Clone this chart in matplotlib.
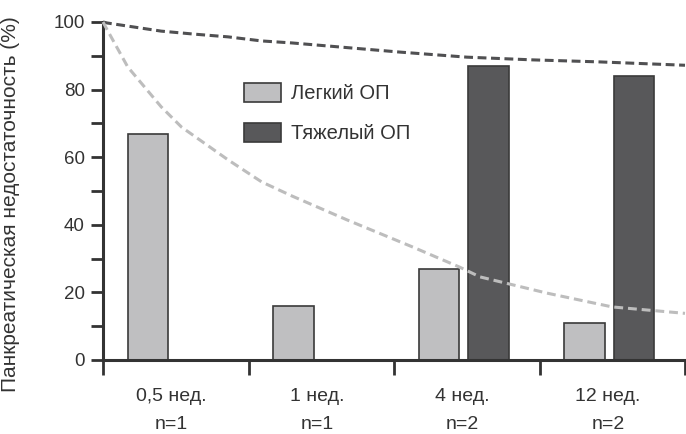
import matplotlib
matplotlib.use("Agg")
import matplotlib.pyplot as plt
import numpy as np
from matplotlib.patches import Patch

plt.rcParams['font.family'] = ['Liberation Sans', 'DejaVu Sans']

# ---- data ----
categories = ["0,5 нед.\nn=1", "1 нед.\nn=1", "4 нед.\nn=2", "12 нед.\nn=2"]
mild = [67, 16, 27, 11]
severe = [np.nan, np.nan, 87, 84]
series_labels = ["Легкий ОП", "Тяжелый ОП"]

# dashed trend curves (x in category units)
severe_curve_x = [-0.50, -0.47, -0.10, 0.13, 0.36, 0.59, 0.80, 1.54, 2.00, 2.45, 2.91, 3.50]
severe_curve_y = [100, 99.7, 97.3, 96.4, 95.6, 94.4, 93.8, 91.1, 89.6, 88.8, 88.2, 87.2]
mild_curve_x = [-0.50, -0.47, -0.33, -0.10, 0.04, 0.36, 0.59, 0.80, 1.18, 1.63, 1.95, 2.09, 2.55, 3.00, 3.50]
mild_curve_y = [100, 97.6, 86.7, 74.9, 68.9, 59.2, 52.7, 48.5, 41.4, 33.4, 27.5, 24.6, 19.8, 15.7, 13.8]

light = "#bfbfc1"
dark = "#58585a"
edge = "#3a3a3a"
txt = "#333333"

fig = plt.figure(figsize=(6.86, 4.34), dpi=100)
ax = fig.add_axes([103/686, 1-360/434, 582/686, 338/434])

x = np.arange(len(categories))
w = 0.28
ax.bar(x - 0.19, mild, w, color=light, edgecolor=edge, linewidth=1.2, zorder=2)
ax.bar(x + 0.15, severe, w, color=dark, edgecolor=edge, linewidth=1.2, zorder=2)

ax.plot(severe_curve_x, severe_curve_y, color="#505052", lw=2.2, dashes=(2.9, 1.5), zorder=3, clip_on=False)
ax.plot(mild_curve_x, mild_curve_y, color="#bdbdbd", lw=2.2, dashes=(2.9, 1.6), zorder=3, clip_on=False)

ax.set_xlim(-0.5, 3.5)
ax.set_ylim(0, 100)

for s in ["top", "right"]:
    ax.spines[s].set_visible(False)
for s in ["left", "bottom"]:
    ax.spines[s].set_linewidth(2.2)
    ax.spines[s].set_color(txt)

ax.set_yticks([0, 20, 40, 60, 80, 100])
ax.set_yticks([10, 30, 50, 70, 90], minor=True)
ax.tick_params(axis='y', which='both', length=9, width=2, color=txt,
               labelsize=13.5, labelcolor=txt, pad=4)
ax.set_xticks([-0.5, 0.5, 1.5, 2.5, 3.5])
ax.set_xticklabels([])
ax.tick_params(axis='x', which='major', length=11, width=2, color=txt)
for xi, lab in zip(x, categories):
    ax.text(xi - 0.03, -0.083, lab, transform=ax.get_xaxis_transform(), ha='center', va='top',
            fontsize=14, color=txt, linespacing=1.85)

ax.set_ylabel("Панкреатическая недостаточность (%)", fontsize=15, color=txt)
ax.yaxis.set_label_coords(-0.142, 0.46)

handles = [Patch(facecolor=light, edgecolor=edge, linewidth=1.2),
           Patch(facecolor=dark, edgecolor=edge, linewidth=1.2)]
leg = ax.legend(handles, series_labels, loc='upper left',
                bbox_to_anchor=(244/686, 1-83/434), bbox_transform=fig.transFigure,
                frameon=False, fontsize=14.5, handlelength=1.85, handleheight=1.05,
                labelspacing=0.98, handletextpad=0.5, borderpad=0, borderaxespad=0)
for t in leg.get_texts():
    t.set_color(txt)

fig.savefig("out.png", dpi=100)
